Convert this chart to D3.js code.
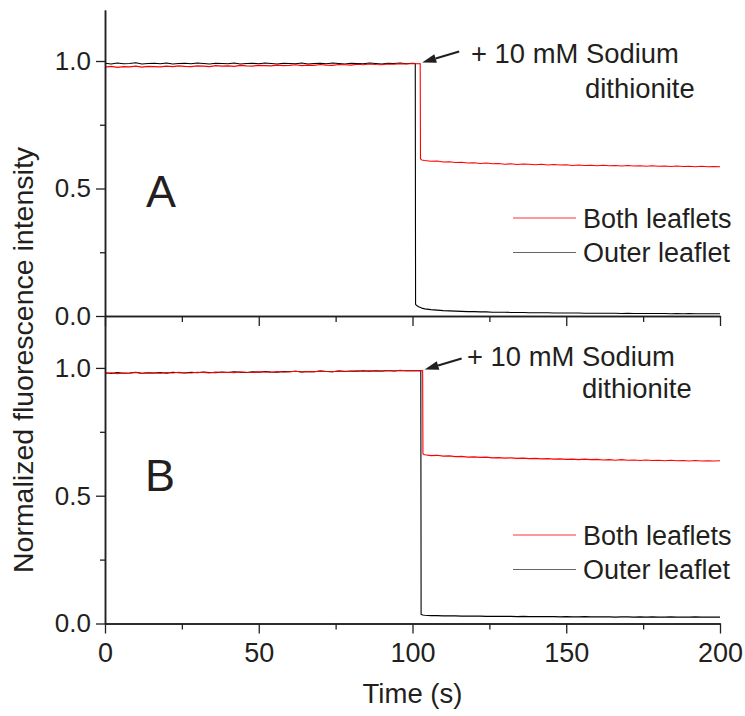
<!DOCTYPE html>
<html>
<head>
<meta charset="utf-8">
<script src="https://cdn.jsdelivr.net/npm/d3@7"></script>
<style>
  html, body { margin: 0; padding: 0; background: #fff; }
  svg { display: block; }
  text { font-family: "Liberation Sans", Arial, Helvetica, sans-serif; fill: #231f20; }
</style>
</head>
<body>
<svg id="chart" width="745" height="716"></svg>
<script>
// ---------------- DATA ----------------
const timePre = [0,2,4,6,8,10,12,14,16,18,20,22,24,26,28,30,32,34,36,38,40,42,44,46,48,50,
  52,54,56,58,60,62,64,66,68,70,72,74,76,78,80,82,84,86,88,90,92,94,96,98,100];
const timePost = [104,106,108,110,112,114,116,118,120,122,124,126,128,130,132,134,136,138,140,142,
  144,146,148,150,152,154,156,158,160,162,164,166,168,170,172,174,176,178,180,182,184,186,188,190,
  192,194,196,198,200];

// Panel A — Outer leaflet (black)
const aOuterPre = [0.991,0.988,0.992,0.989,0.990,0.993,0.988,0.990,0.991,0.989,
  0.992,0.988,0.990,0.991,0.989,0.992,0.990,0.988,0.991,0.990,
  0.989,0.992,0.988,0.990,0.991,0.989,0.992,0.990,0.988,0.991,
  0.990,0.989,0.992,0.988,0.990,0.991,0.989,0.992,0.990,0.988,
  0.991,0.990,0.989,0.992,0.990,0.988,0.991,0.990,0.992,0.989,0.991];
const aOuterDropT = [100.9, 101.0, 101.5, 102, 103];
const aOuterDropV = [0.990, 0.046, 0.040, 0.036, 0.031];
const aOuterPost = [0.028,0.025,0.023,0.021,0.020,0.019,0.018,0.017,0.017,0.016,
  0.016,0.015,0.015,0.015,0.014,0.014,0.014,0.013,0.013,0.013,
  0.013,0.012,0.012,0.012,0.012,0.012,0.011,0.011,0.011,0.011,
  0.011,0.011,0.010,0.011,0.010,0.010,0.010,0.010,0.010,0.010,
  0.009,0.010,0.009,0.010,0.009,0.009,0.009,0.009,0.009];

// Panel A — Both leaflets (red)
const aBothPre = [0.976,0.979,0.975,0.978,0.977,0.980,0.976,0.979,0.978,0.977,
  0.980,0.978,0.981,0.979,0.978,0.981,0.980,0.978,0.982,0.980,
  0.981,0.979,0.983,0.981,0.980,0.983,0.982,0.981,0.984,0.982,
  0.983,0.985,0.982,0.984,0.983,0.986,0.984,0.983,0.986,0.985,
  0.984,0.987,0.985,0.988,0.986,0.985,0.988,0.987,0.989,0.988,0.990];
const aBothDropT = [102, 102.5, 102.6, 103];
const aBothDropV = [0.989, 0.990, 0.616, 0.612];
const aBothPost = [0.610,0.607,0.608,0.604,0.605,0.602,0.603,0.600,0.601,0.598,
  0.600,0.597,0.598,0.595,0.597,0.594,0.596,0.595,0.593,0.595,
  0.592,0.594,0.592,0.593,0.590,0.592,0.590,0.591,0.589,0.591,
  0.589,0.590,0.588,0.590,0.588,0.589,0.587,0.589,0.587,0.588,
  0.586,0.588,0.586,0.587,0.585,0.587,0.585,0.586,0.585];

// Panel B — Outer leaflet (black)
const bOuterPre = [0.981,0.978,0.982,0.979,0.980,0.983,0.979,0.981,0.980,0.982,
  0.979,0.983,0.981,0.980,0.983,0.981,0.984,0.982,0.981,0.984,
  0.982,0.985,0.983,0.982,0.985,0.983,0.986,0.984,0.983,0.986,
  0.985,0.987,0.984,0.986,0.985,0.988,0.986,0.985,0.988,0.986,
  0.988,0.987,0.989,0.987,0.989,0.988,0.990,0.988,0.990,0.989,0.990];
const bOuterDropT = [102, 102.7, 102.8, 103.3];
const bOuterDropV = [0.989, 0.990, 0.036, 0.033];
const bOuterPost = [0.032,0.031,0.031,0.030,0.030,0.030,0.029,0.029,0.029,0.029,
  0.028,0.028,0.028,0.028,0.028,0.027,0.028,0.027,0.027,0.027,
  0.027,0.027,0.026,0.027,0.026,0.026,0.027,0.026,0.026,0.026,
  0.026,0.025,0.026,0.026,0.025,0.026,0.025,0.026,0.025,0.025,
  0.026,0.025,0.025,0.025,0.026,0.025,0.025,0.025,0.025];

// Panel B — Both leaflets (red)
const bBothPre = [0.978,0.981,0.977,0.980,0.979,0.982,0.978,0.981,0.980,0.979,
  0.982,0.980,0.983,0.981,0.980,0.983,0.982,0.980,0.984,0.982,
  0.983,0.981,0.985,0.983,0.982,0.985,0.984,0.983,0.986,0.984,
  0.985,0.987,0.984,0.986,0.985,0.988,0.986,0.985,0.988,0.987,
  0.986,0.989,0.987,0.989,0.988,0.987,0.990,0.988,0.991,0.989,0.990];
const bBothDropT = [102, 103.3, 103.4, 103.8];
const bBothDropV = [0.989, 0.990, 0.663, 0.661];
const bBothPost = [0.660,0.657,0.658,0.655,0.656,0.653,0.654,0.651,0.652,0.650,
  0.651,0.648,0.649,0.647,0.648,0.646,0.647,0.645,0.646,0.644,
  0.645,0.643,0.644,0.642,0.643,0.641,0.643,0.641,0.642,0.640,
  0.641,0.639,0.641,0.639,0.640,0.638,0.640,0.638,0.639,0.637,
  0.639,0.637,0.638,0.636,0.638,0.636,0.637,0.636,0.637];

const xMajorTicks = [0, 50, 100, 150, 200];
const xMinorTicks = [25, 75, 125, 175];
const yMajorTicks = [0, 0.5, 1.0];
const yMinorTicks = [0.25, 0.75];
const seriesNames = ["Both leaflets", "Outer leaflet"];
const seriesColors = ["#ff0000", "#000000"];
const panelLabels = ["A", "B"];
const annotationLines = ["+ 10 mM Sodium", "dithionite"];
const arrowTimes = [102.5, 103.3];

// ---------------- DRAW ----------------
const svg = d3.select("#chart");
svg.append("rect").attr("width", 745).attr("height", 716).attr("fill", "#fff");

const x = d3.scaleLinear().domain([0, 200]).range([105, 720]);
const yA = d3.scaleLinear().domain([0, 1.2]).range([316, 10]);
const yB = d3.scaleLinear().domain([0, 1.2]).range([623.5, 316.8]);

function build(pre, dropT, dropV, post) {
  const pts = [];
  timePre.forEach((t, i) => pts.push([t, pre[i]]));
  dropT.forEach((t, i) => pts.push([t, dropV[i]]));
  timePost.forEach((t, i) => pts.push([t, post[i]]));
  return pts;
}

const panels = [
  { y: yA, series: [build(aBothPre, aBothDropT, aBothDropV, aBothPost),
                    build(aOuterPre, aOuterDropT, aOuterDropV, aOuterPost)],
    label: panelLabels[0], labelX: 146, labelY: 207, showX: false,
    legendY: 218, arrowT: arrowTimes[0],
    annX: 471, annY: 63, ann2X: 585, ann2Y: 98 },
  { y: yB, series: [build(bBothPre, bBothDropT, bBothDropV, bBothPost),
                    build(bOuterPre, bOuterDropT, bOuterDropV, bOuterPost)],
    label: panelLabels[1], labelX: 145, labelY: 491, showX: true,
    legendY: 535, arrowT: arrowTimes[1],
    annX: 467, annY: 366, ann2X: 582, ann2Y: 398 }
];

const axisColor = "#231f20";

panels.forEach(p => {
  const g = svg.append("g");
  const line = d3.line().x(d => x(d[0])).y(d => p.y(d[1]));
  // draw black first, red on top
  [1, 0].forEach(si => {
    g.append("path").datum(p.series[si])
      .attr("d", line).attr("fill", "none")
      .attr("stroke", seriesColors[si]).attr("stroke-width", 1.1)
      .attr("stroke-linejoin", "round");
  });

  // Y axis
  const yMaj = d3.axisLeft(p.y).tickValues(yMajorTicks).tickSize(9).tickSizeOuter(0)
    .tickPadding(5).tickFormat(d3.format(".1f"));
  const yMin = d3.axisLeft(p.y).tickValues(yMinorTicks).tickSize(5).tickSizeOuter(0)
    .tickFormat("");
  [yMaj, yMin].forEach(ax => {
    const ag = g.append("g").attr("transform", `translate(${x(0)},0)`).call(ax);
    ag.select(".domain").attr("stroke", axisColor).attr("stroke-width", 1.5);
    ag.selectAll(".tick line").attr("stroke", axisColor).attr("stroke-width", 1.3);
    ag.selectAll(".tick text").style("font-size", "26px").attr("fill", axisColor)
      .attr("font-family", null);
  });

  // X axis
  const x0 = p.y(0);
  const xMaj = d3.axisBottom(x).tickValues(xMajorTicks).tickSize(10).tickSizeOuter(0)
    .tickPadding(9).tickFormat(p.showX ? d3.format("d") : "");
  const xMin = d3.axisBottom(x).tickValues(xMinorTicks).tickSize(6).tickSizeOuter(0)
    .tickFormat("");
  [xMaj, xMin].forEach(ax => {
    const ag = g.append("g").attr("transform", `translate(0,${x0})`).call(ax);
    ag.select(".domain").attr("stroke", axisColor).attr("stroke-width", 1.5);
    ag.selectAll(".tick line").attr("stroke", axisColor).attr("stroke-width", 1.3);
    ag.selectAll(".tick text").style("font-size", "27px").attr("fill", axisColor)
      .attr("font-family", null);
  });

  // Panel label
  g.append("text").attr("x", p.labelX).attr("y", p.labelY)
    .style("font-size", "45px").text(p.label);

  // Legend
  seriesNames.forEach((name, i) => {
    const ly = p.legendY + i * 34.5;
    g.append("line").attr("x1", 513).attr("x2", 576).attr("y1", ly).attr("y2", ly)
      .attr("stroke", seriesColors[i]).attr("stroke-width", 1).attr("opacity", i === 0 ? 0.8 : 0.6);
    g.append("text").attr("x", 583).attr("y", ly + 9.5)
      .style("font-size", "27px").text(name);
  });

  // Annotation arrow
  const tipX = x(p.arrowT) + 2, tipY = p.y(0.99) - 1;
  const tailX = tipX + 37, tailY = tipY - 11;
  const ang = Math.atan2(tailY - tipY, tailX - tipX);
  const hl = 14, hw = 4.5;
  const bx = tipX + hl * Math.cos(ang), by = tipY + hl * Math.sin(ang);
  const px = -Math.sin(ang) * hw, py = Math.cos(ang) * hw;
  g.append("line").attr("x1", bx).attr("y1", by).attr("x2", tailX).attr("y2", tailY)
    .attr("stroke", "#231f20").attr("stroke-width", 2.2);
  g.append("path")
    .attr("d", `M${tipX},${tipY}L${bx + px},${by + py}L${bx - px},${by - py}Z`)
    .attr("fill", "#231f20");

  g.append("text").attr("x", p.annX).attr("y", p.annY)
    .style("font-size", "27.4px").text(annotationLines[0]);
  g.append("text").attr("x", p.ann2X).attr("y", p.ann2Y)
    .style("font-size", "27.4px").text(annotationLines[1]);
});

// Axis titles
svg.append("text").attr("x", x(100)).attr("y", 703).attr("text-anchor", "middle")
  .style("font-size", "27.5px").text("Time (s)");
svg.append("text").attr("transform", "translate(33,360) rotate(-90)")
  .attr("text-anchor", "middle").style("font-size", "28.5px")
  .text("Normalized fluorescence intensity");
</script>
</body>
</html>
